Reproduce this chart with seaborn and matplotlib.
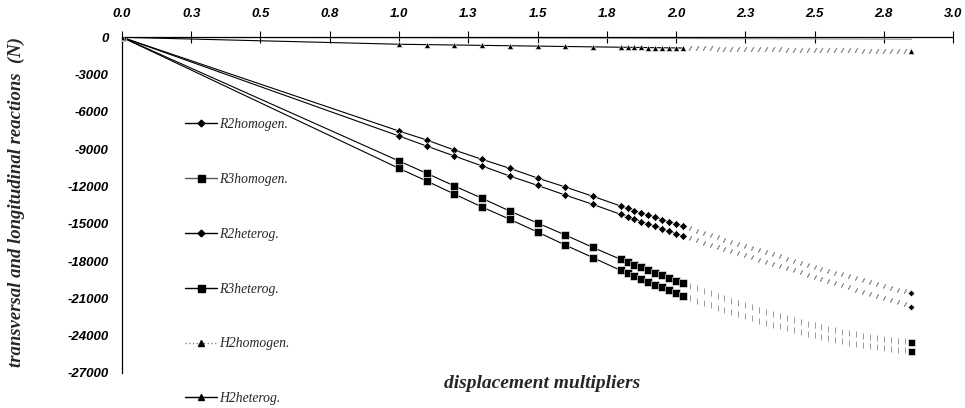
import matplotlib
matplotlib.use("Agg")
import matplotlib.pyplot as plt
from matplotlib.lines import Line2D
import seaborn as sns
import pandas as pd

# ---------------- data ----------------
x_sparse = [0.0, 1.0, 1.1, 1.2, 1.3, 1.4, 1.5, 1.6, 1.7]
x_dense = [1.8, 1.825, 1.85, 1.875, 1.9, 1.925, 1.95, 1.975, 2.0, 2.025]
x_faded = [2.05, 2.075, 2.1, 2.125, 2.15, 2.175, 2.2, 2.225, 2.25, 2.275,
           2.3, 2.325, 2.35, 2.375, 2.4, 2.425, 2.45, 2.475, 2.5, 2.525,
           2.55, 2.575, 2.6, 2.625, 2.65, 2.675, 2.7, 2.725, 2.75, 2.775,
           2.8, 2.825]
x_last = [2.85]

series_names = ["R2homogen.", "R3homogen.", "R2heterog.", "R3heterog.",
                "H2homogen.", "H2heterog."]

r2_homogen = [0, -7540, -8260, -9070, -9820, -10540, -11320, -12040, -12790,
              -13570, -13760, -13940, -14120, -14300, -14480, -14660, -14840, -15010, -15190,
              -15370, -15550, -15730, -15910, -16090, -16270, -16450, -16620, -16790, -16960,
              -17120, -17290, -17460, -17630, -17800, -17970, -18150, -18320, -18500, -18640,
              -18780, -18920, -19070, -19210, -19350, -19510, -19660, -19820, -19970, -20130,
              -20290, -20440,
              -20600]
r3_homogen = [0, -9950, -10940, -11960, -12950, -13980, -14940, -15900, -16900,
              -17860, -18070, -18290, -18500, -18720, -18930, -19150, -19360, -19580, -19790,
              -19990, -20190, -20380, -20580, -20780, -20970, -21170, -21360, -21550, -21730,
              -21910, -22090, -22260, -22440, -22610, -22760, -22900, -23040, -23170, -23300,
              -23430, -23550, -23670, -23780, -23890, -23990, -24080, -24170, -24250, -24320,
              -24390, -24450,
              -24500]
r2_heterog = [0, -7940, -8750, -9550, -10350, -11160, -11910, -12690, -13440,
              -14240, -14430, -14630, -14820, -15020, -15210, -15400, -15600, -15790, -15990,
              -16160, -16330, -16510, -16680, -16850, -17020, -17190, -17370, -17540, -17710,
              -17880, -18050, -18230, -18400, -18570, -18740, -18910, -19090, -19260, -19430,
              -19600, -19770, -19950, -20120, -20290, -20460, -20630, -20810, -20980, -21150,
              -21320, -21490,
              -21670]
r3_heterog = [0, -10540, -11560, -12610, -13650, -14640, -15660, -16710, -17720,
              -18750, -18980, -19210, -19440, -19660, -19890, -20120, -20350, -20580, -20810,
              -21000, -21190, -21380, -21560, -21740, -21920, -22100, -22270, -22440, -22610,
              -22780, -22940, -23100, -23260, -23410, -23560, -23700, -23840, -23970, -24100,
              -24220, -24340, -24450, -24560, -24660, -24750, -24840, -24920, -24990, -25060,
              -25120, -25170,
              -25210]
h2_homogen = [0, -40, -45, -50, -55, -60, -65, -70, -75,
              -80, -80, -82, -84, -86, -88, -90, -92, -94, -96,
              -98, -100, -102, -104, -106, -108, -110, -112, -114, -116,
              -118, -120, -122, -124, -126, -128, -130, -132, -134, -136,
              -138, -140, -142, -144, -146, -148, -150, -152, -154, -156,
              -158, -160,
              -162]
h2_heterog = [0, -560, -590, -620, -650, -680, -710, -740, -770,
              -800, -807, -814, -821, -828, -835, -842, -849, -856, -863,
              -870, -878, -886, -894, -902, -910, -918, -926, -934, -942,
              -950, -958, -966, -974, -982, -990, -998, -1006, -1014, -1022,
              -1030, -1038, -1046, -1054, -1062, -1070, -1078, -1086, -1094, -1100,
              -1106, -1112,
              -1120]

x_ticks = [0.0, 0.25, 0.5, 0.75, 1.0, 1.25, 1.5, 1.75, 2.0, 2.25, 2.5, 2.75, 3.0]
x_tick_labels = ["0.0", "0.3", "0.5", "0.8", "1.0", "1.3", "1.5", "1.8", "2.0",
                 "2.3", "2.5", "2.8", "3.0"]
y_ticks = [0, -3000, -6000, -9000, -12000, -15000, -18000, -21000, -24000, -27000]
y_tick_labels = ["0", "-3000", "-6000", "-9000", "-12000", "-15000", "-18000",
                 "-21000", "-24000", "-27000"]

# ---------------- styling ----------------
sns.set_style("white")
plt.rcParams["font.family"] = ["Liberation Sans", "DejaVu Sans"]

styles = {
    "R2homogen.": dict(marker="D", ms=3.8, lcolor="black", ls="-"),
    "R3homogen.": dict(marker="s", ms=5.6, lcolor="#555555", ls="-"),
    "R2heterog.": dict(marker="D", ms=3.8, lcolor="black", ls="-"),
    "R3heterog.": dict(marker="s", ms=5.6, lcolor="black", ls="-"),
    "H2homogen.": dict(marker="^", ms=4.4, lcolor="#888888", ls=":"),
    "H2heterog.": dict(marker="^", ms=4.8, lcolor="black", ls="-"),
}
faded_marker = {"D": (2, 2, -30), "s": "|", "^": (2, 2, -30)}

fig = plt.figure(figsize=(9.65, 4.08), dpi=100)
ax = fig.add_axes([0.1264, 0.0858, 0.8612, 0.8228])

values = [r2_homogen, r3_homogen, r2_heterog, r3_heterog, h2_homogen, h2_heterog]
n_s, n_d, n_f = len(x_sparse), len(x_dense), len(x_faded)
x_all = x_sparse + x_dense + x_faded + x_last

for name, vals in zip(series_names, values):
    st = styles[name]
    main_x = x_sparse + x_dense
    main_y = vals[:n_s + n_d]
    fad_y = vals[n_s + n_d:n_s + n_d + n_f]
    last_y = vals[-1:]
    if name == "H2homogen.":
        sns.lineplot(x=x_all, y=vals, ax=ax, color="#9a9a9a", linewidth=0.8,
                     sort=False, estimator=None, zorder=2)
        continue
    sns.lineplot(x=main_x, y=main_y, ax=ax, color="black", linewidth=0.8,
                 marker=st["marker"], markersize=st["ms"], markeredgecolor="white",
                 markeredgewidth=0.4, markerfacecolor="black",
                 sort=False, estimator=None, zorder=3)
    sns.lineplot(x=x_faded, y=fad_y, ax=ax, color="#9a9a9a", linewidth=0,
                 marker=faded_marker[st["marker"]], markersize=st["ms"] * 0.85,
                 markeredgewidth=0.7, markeredgecolor="#9a9a9a",
                 sort=False, estimator=None, zorder=2)
    sns.lineplot(x=x_last, y=last_y, ax=ax, color="black", linewidth=0,
                 marker=st["marker"], markersize=st["ms"] * 0.9, markeredgecolor="white",
                 markeredgewidth=0.4,
                 sort=False, estimator=None, zorder=3)

ax.set_xlim(0, 3.0)
ax.set_ylim(-27000, 0)
ax.xaxis.tick_top()
ax.set_xticks(x_ticks)
ax.set_xticklabels(x_tick_labels, fontsize=9.5, fontweight="bold", fontstyle="italic")
ax.set_yticks(y_ticks)
ax.set_yticklabels(y_tick_labels, fontsize=9.5, fontweight="bold", fontstyle="italic")
ax.tick_params(axis="x", direction="inout", length=9, width=0.8, pad=8, colors="black")
ax.tick_params(axis="y", direction="inout", length=9, width=0.8, pad=5, colors="black")
for sp in ["right", "bottom"]:
    ax.spines[sp].set_visible(False)
for sp in ["top", "left"]:
    ax.spines[sp].set_color("black")
    ax.spines[sp].set_linewidth(0.9)
ax.set_xlabel("")
ax.set_ylabel("")
ax.grid(False)

serif = ["Liberation Serif", "DejaVu Serif"]
fig.text(0.017, 0.505, "transversal and longitudinal reactions  (N)", rotation=90,
         ha="center", va="center", fontsize=13.5, fontweight="bold", fontstyle="italic",
         family=serif)
fig.text(0.562, 0.059, "displacement multipliers", ha="center", va="center",
         fontsize=14, fontweight="bold", fontstyle="italic", family=serif)

handles = []
for name in series_names:
    st = styles[name]
    handles.append(Line2D([0], [0], color=st["lcolor"], linestyle=st["ls"], linewidth=1.0,
                          marker=st["marker"], markersize=st["ms"] * 0.9,
                          markerfacecolor="black", markeredgecolor="black"))
leg = fig.legend(handles, series_names, loc="upper left", bbox_to_anchor=(0.185, 0.727),
                 frameon=False, handlelength=2.3, handletextpad=0.15, labelspacing=3.07,
                 borderpad=0, prop=dict(family=serif, style="italic", size=9.8))

fig.savefig("out.png", dpi=100)
